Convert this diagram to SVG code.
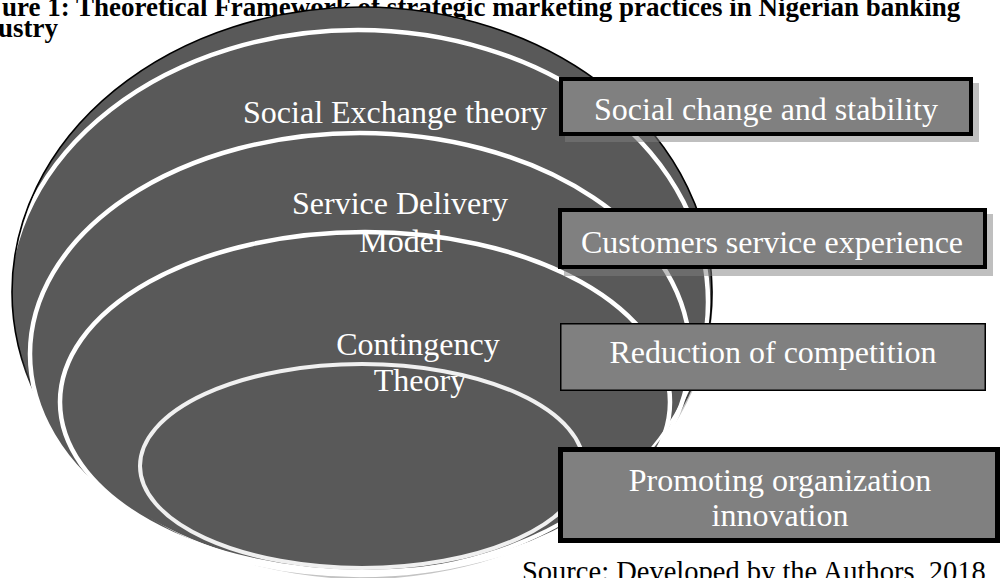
<svg xmlns="http://www.w3.org/2000/svg" width="1001" height="578" viewBox="0 0 1001 578">
<defs>
<linearGradient id="rim" x1="0" y1="0" x2="0" y2="1">
<stop offset="0" stop-color="#000"/>
<stop offset="0.6" stop-color="#000"/>
<stop offset="0.75" stop-color="#777"/>
<stop offset="1" stop-color="#bbb"/>
</linearGradient>
<clipPath id="outerClip">
<ellipse cx="362" cy="292" rx="349" ry="284"/>
</clipPath>
<style>
.fill{fill:#595959}
.ring{fill:none;stroke:#fff;stroke-width:4.5}
.core{fill:none;stroke:#f0f0f0;stroke-width:4}
.lbl{font-family:"Liberation Serif","Times New Roman",serif;font-size:32px;fill:#fff;text-anchor:middle}
.box{fill:#808080;stroke:#000}
.shadow{fill:#808080;fill-opacity:.5}
.title{font-family:"Liberation Serif","Times New Roman",serif;font-weight:bold;font-size:27px;fill:#000}
.src{font-family:"Liberation Serif","Times New Roman",serif;font-size:28.5px;fill:#000}
</style>
</defs>
<g id="title">
<text class="title" x="2" y="16">ure 1: Theoretical Framework of strategic marketing practices in Nigerian banking</text>
<text class="title" x="-2" y="37">ustry</text>
</g>
<g id="connectors"/>
<g id="ring-outer">
<ellipse cx="363" cy="295" rx="350" ry="284" fill="#c4c4c4"/>
<ellipse class="fill" cx="362" cy="292" rx="350" ry="285" stroke="url(#rim)" stroke-width="1.6"/>
<ellipse class="fill" cx="360" cy="354" rx="330" ry="221"/>
<ellipse class="fill" cx="365" cy="402" rx="305" ry="170"/>
<ellipse class="fill" cx="362" cy="466" rx="222" ry="102"/>
</g>
<g id="ring-social-exchange">
<ellipse class="ring" cx="358" cy="302" rx="350" ry="272" clip-path="url(#outerClip)"/>
<text class="lbl" x="395" y="123">Social Exchange theory</text>
</g>
<g id="ring-service-delivery">
<ellipse class="ring" cx="360" cy="354" rx="330" ry="221"/>
<text class="lbl" x="400" y="214">Service Delivery</text>
<text class="lbl" x="401" y="252">Model</text>
</g>
<g id="ring-contingency">
<ellipse class="ring" cx="365" cy="402" rx="305" ry="170"/>
<text class="lbl" x="418" y="355">Contingency</text>
<text class="lbl" x="420" y="391">Theory</text>
</g>
<g id="ring-core">
<ellipse class="core" cx="362" cy="466" rx="222" ry="102"/>
</g>
<g id="box-social-change">
<rect class="shadow" x="565" y="83" width="414" height="59"/>
<rect class="box" x="561" y="79" width="410" height="55" stroke-width="4"/>
<text class="lbl" x="766" y="120">Social change and stability</text>
</g>
<g id="box-customers">
<rect class="shadow" x="564" y="214" width="429" height="62"/>
<rect class="box" x="560" y="210" width="425" height="57" stroke-width="4"/>
<text class="lbl" x="772" y="253">Customers service experience</text>
</g>
<g id="box-reduction">
<rect class="box" x="560.75" y="323.75" width="424.5" height="66.5" stroke-width="1.5"/>
<text class="lbl" x="773" y="363">Reduction of competition</text>
</g>
<g id="box-promoting">
<rect class="box" x="560.5" y="449.5" width="437" height="91" stroke-width="5"/>
<text class="lbl" x="780" y="491">Promoting organization</text>
<text class="lbl" x="780" y="526">innovation</text>
</g>
<g id="source">
<text class="src" x="522" y="581">Source: Developed by the Authors, 2018</text>
</g>
</svg>
